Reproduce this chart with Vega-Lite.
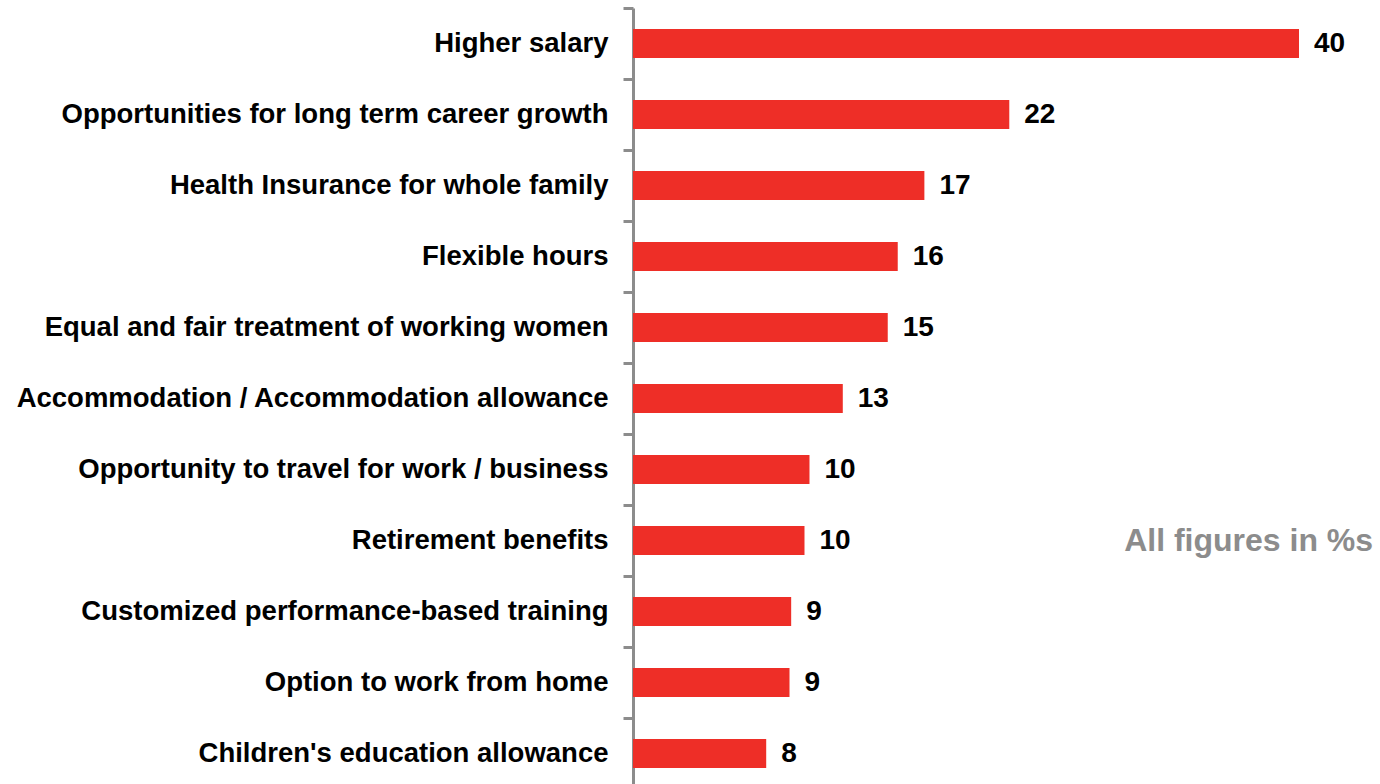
{
  "$schema": "https://vega.github.io/schema/vega-lite/v6.json",
  "width": 666,
  "height": 776,
  "autosize": {"type": "none"},
  "padding": {"left": 633, "top": 8, "right": 81, "bottom": 0},
  "background": "white",
  "config": {"view": {"stroke": null}},
  "data": {
    "values": [
      {"category": "Higher salary", "value": 40.0, "label": "40"},
      {"category": "Opportunities for long term career growth", "value": 22.6, "label": "22"},
      {"category": "Health Insurance for whole family", "value": 17.5, "label": "17"},
      {"category": "Flexible hours", "value": 15.9, "label": "16"},
      {"category": "Equal and fair treatment of working women", "value": 15.3, "label": "15"},
      {"category": "Accommodation / Accommodation allowance", "value": 12.6, "label": "13"},
      {"category": "Opportunity to travel for work / business", "value": 10.6, "label": "10"},
      {"category": "Retirement benefits", "value": 10.3, "label": "10"},
      {"category": "Customized performance-based training", "value": 9.5, "label": "9"},
      {"category": "Option to work from home", "value": 9.4, "label": "9"},
      {"category": "Children's education allowance", "value": 8.0, "label": "8"}
    ]
  },
  "encoding": {
    "y": {
      "field": "category",
      "type": "nominal",
      "sort": null,
      "scale": {"range": [0, 781], "paddingInner": 0, "paddingOuter": 0},
      "axis": {
        "title": null,
        "domainColor": "#8c8c8c",
        "domainWidth": 3,
        "tickColor": "#8c8c8c",
        "tickWidth": 3,
        "tickSize": 10,
        "tickBand": "extent",
        "labelPadding": 15,
        "labelFont": "Liberation Sans",
        "labelFontSize": 27.5,
        "labelFontWeight": "bold",
        "labelColor": "#000000",
        "labelLimit": 700
      }
    }
  },
  "layer": [
    {
      "mark": {"type": "bar", "color": "#ee2e27", "size": 29},
      "encoding": {
        "x": {"field": "value", "type": "quantitative", "scale": {"domain": [0, 40], "nice": false}, "axis": null}
      }
    },
    {
      "mark": {"type": "text", "align": "left", "baseline": "middle", "dx": 15, "font": "Liberation Sans", "fontSize": 28, "fontWeight": "bold", "color": "#000000"},
      "encoding": {
        "x": {"field": "value", "type": "quantitative"},
        "text": {"field": "label"}
      }
    },
    {
      "data": {"values": [{"note": "All figures in %s", "category": "Retirement benefits", "pos": 44.45}]},
      "mark": {"type": "text", "align": "right", "baseline": "middle", "font": "Liberation Sans", "fontSize": 32, "fontWeight": "bold", "color": "#8c8c8c"},
      "encoding": {
        "x": {"field": "pos", "type": "quantitative"},
        "text": {"field": "note"}
      }
    }
  ]
}
